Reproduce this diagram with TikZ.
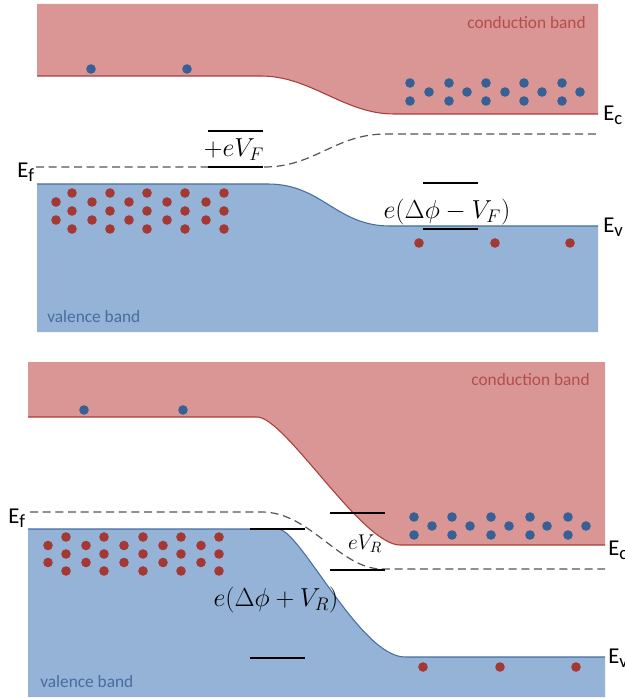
\RequirePackage{fix-cm}
\documentclass[tikz,border=0pt]{standalone}
\usepackage[no-math]{fontspec}
\newfontfamily\carl{Carlito}
\definecolor{pinkc}{RGB}{217,150,148}
\definecolor{pinkline}{RGB}{170,60,58}
\definecolor{bluec}{RGB}{149,179,215}
\definecolor{blueline}{RGB}{70,110,165}
\definecolor{edotc}{RGB}{54,96,150}
\definecolor{hdotc}{RGB}{163,56,53}
\definecolor{condtxt}{RGB}{180,78,76}
\definecolor{valtxt}{RGB}{72,108,160}
\definecolor{dashc}{RGB}{85,85,85}
\newcommand{\elvl}[1]{E\raisebox{-3pt}{\fontsize{14}{14}\selectfont #1}}
\begin{document}
\begin{tikzpicture}[x=0.75pt,y=-0.75pt,
  dashline/.style={draw=dashc, line width=0.9pt, dash pattern=on 6pt off 3.5pt},
  bar/.style={draw=black, line width=2.2pt},
  elec/.style={fill=edotc},
  hole/.style={fill=hdotc},
  lvl/.style={font=\carl\fontsize{17}{17}\selectfont, anchor=base west, inner sep=0pt},
  bandtxt/.style={font=\carl\fontsize{13}{13}\selectfont, inner sep=0pt},
  mathlbl/.style={font=\fontsize{19.5}{21}\selectfont, inner sep=0pt},
  pinkedge/.style={draw=pinkline, line width=0.8pt},
  blueedge/.style={draw=blueline, line width=0.8pt},
]
\useasboundingbox (0,0) rectangle (624,698);
\fill[white] (0,0) rectangle (624,698);

% ================= TOP PANEL =================
\fill[pinkc] (37,4) -- (598,4) -- (598,114) -- (394,114)
  .. controls (344,114) and (311,76) .. (261,76) -- (37,76) -- cycle;
\draw[pinkedge] (37,76) -- (261,76) .. controls (311,76) and (344,114) .. (394,114) -- (598,114);
\fill[bluec] (37,184) -- (268,184) .. controls (322,184) and (336,226) .. (390,226)
  -- (598,226) -- (598,332) -- (37,332) -- cycle;
\draw[blueedge] (37,184) -- (268,184) .. controls (322,184) and (336,226) .. (390,226) -- (598,226);

% electrons
\foreach \x in {91,187} \fill[elec] (\x,69) circle[radius=3.6pt];
\foreach \x in {410,449,486,524,562} {\fill[elec] (\x,83) circle[radius=3.6pt]; \fill[elec] (\x,101) circle[radius=3.6pt];}
\foreach \x in {429,467,505,542,580} \fill[elec] (\x,92) circle[radius=3.6pt];
% holes
\foreach \x in {72,110,147,185,224} \foreach \y in {193,211,229} \fill[hole] (\x,\y) circle[radius=3.6pt];
\foreach \x in {56,92,129,167,206} \foreach \y in {202,220} \fill[hole] (\x,\y) circle[radius=3.6pt];
\foreach \x in {419,495,570} \fill[hole] (\x,243) circle[radius=3.6pt];

% Fermi level
\draw[dashline] (36,167) -- (264,167) .. controls (315,167) and (335,134) .. (386,134) -- (598,134);

% bars
\draw[bar] (208,131) -- (263,131);
\draw[bar] (208,167) -- (263,167);
\draw[bar] (423,183) -- (478,183);
\draw[bar] (423,229) -- (478,229);

% labels
\node[bandtxt, text=condtxt, anchor=east] (cb1) at (586,22.5) {conduction band};
\node[bandtxt, text=valtxt, anchor=west] (vb1) at (47,316.5) {valence band};
\node[lvl] (ef1) at (17,178) {\elvl{f}};
\node[lvl] (ec1) at (603,121) {\elvl{c}};
\node[lvl] (ev1) at (603,233) {\elvl{v}};
\node[mathlbl] (vf) at (234,150) {$+eV_F$};
\node[mathlbl] (dvf) at (447,212) {$e(\Delta\phi - V_F)$};

% ================= BOTTOM PANEL =================
\fill[pinkc] (28,362) -- (605,362) -- (605,545) -- (400,545)
  .. controls (362,545) and (285,417) .. (257,417) -- (28,417) -- cycle;
\draw[pinkedge] (28,417) -- (257,417) .. controls (285,417) and (362,545) .. (400,545) -- (605,545);
\fill[bluec] (28,529) -- (278,529) .. controls (300,529) and (360,657) .. (405,657)
  -- (605,657) -- (605,697) -- (28,697) -- cycle;
\draw[blueedge] (28,529) -- (278,529) .. controls (300,529) and (360,657) .. (405,657) -- (605,657);

% electrons
\foreach \x in {84,183} \fill[elec] (\x,410) circle[radius=3.6pt];
\foreach \x in {414,452,491,530,568} {\fill[elec] (\x,517) circle[radius=3.6pt]; \fill[elec] (\x,535) circle[radius=3.6pt];}
\foreach \x in {432,470,509,547,586} \fill[elec] (\x,526) circle[radius=3.6pt];
% holes
\foreach \x in {66,104,143,181,219} \foreach \y in {537,554,571} \fill[hole] (\x,\y) circle[radius=3.6pt];
\foreach \x in {48,86,124,163,201} \foreach \y in {545.5,562.5} \fill[hole] (\x,\y) circle[radius=3.6pt];
\foreach \x in {423,500,576} \fill[hole] (\x,667) circle[radius=3.6pt];

% Fermi level
\draw[dashline] (30,512) -- (262,512) .. controls (310,512) and (340,569) .. (382,569) -- (605,569);

% bars
\draw[bar] (250,529) -- (305,529);
\draw[bar] (250,658) -- (305,658);
\draw[bar] (330,513) -- (385,513);
\draw[bar] (330,570) -- (385,570);

% labels
\node[bandtxt, text=condtxt, anchor=east] (cb2) at (590,380) {conduction band};
\node[bandtxt, text=valtxt, anchor=west] (vb2) at (40,682) {valence band};
\node[lvl] (ef2) at (8,523) {\elvl{f}};
\node[lvl] (ec2) at (608,555) {\elvl{c}};
\node[lvl] (ev2) at (608,663) {\elvl{v}};
\node[mathlbl] (dvr) at (276,600) {$e(\Delta\phi + V_R)$};
\node[mathlbl, font=\fontsize{16}{17}\selectfont] (vr) at (365,544) {$eV_R$};
\end{tikzpicture}
\end{document}
